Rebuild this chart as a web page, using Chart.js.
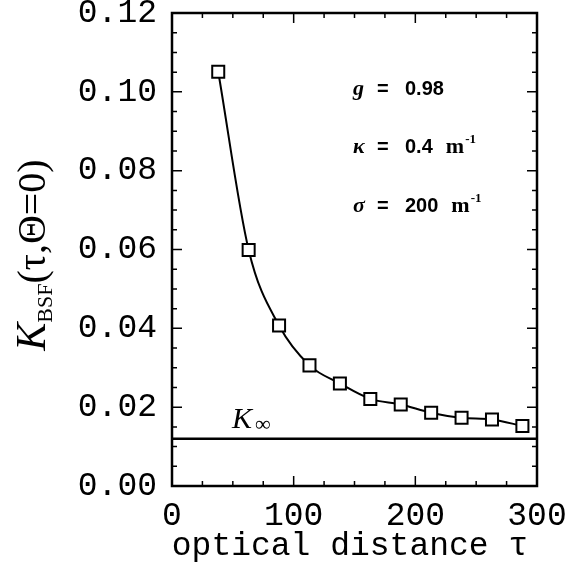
<!DOCTYPE html>
<html>
<head>
<meta charset="utf-8">
<script src="https://cdn.jsdelivr.net/npm/chart.js@4"></script>
<style>
  html, body { margin: 0; padding: 0; background: #fff; }
  #wrap { width: 571px; height: 571px; }
</style>
</head>
<body>
<div id="wrap"><canvas id="kChart" width="571" height="571"></canvas></div>
<script>
  // values
  const tau = [38, 63, 88, 113, 138, 163, 188, 213, 238, 263, 288];
  const kbsf = [0.1051, 0.0599, 0.0407, 0.0306, 0.0260, 0.0221, 0.0207, 0.0186, 0.0173, 0.0169, 0.0152];
  const kInfTau = [0, 300];
  const kInf = [0.012, 0.012];
  const xRange = [0, 300];
  const yRange = [0, 0.12];
  const xMajor = 100, xMinor = 25;
  const yMajor = 0.02, yMinor = 0.005;
  const params = [
    ['g', '0.98', ''],
    ['\u03ba', '0.4', 'm'],
    ['\u03c3', '200', 'm']
  ];

  const monoFont = "'Liberation Mono', 'DejaVu Sans Mono', monospace";
  const serifFont = "'Liberation Serif', 'DejaVu Serif', serif";

  // frame + inward ticks on all four sides, plus the text pieces
  const framePlugin = {
    id: 'frame',
    afterDraw(chart) {
      const c = chart.ctx, a = chart.chartArea;
      const xs = chart.scales.x, ys = chart.scales.y;
      c.save();
      c.strokeStyle = '#000';
      c.lineWidth = 2.5;
      c.strokeRect(a.left, a.top, a.right - a.left, a.bottom - a.top);

      c.lineWidth = 1.5;
      c.beginPath();
      for (let v = xRange[0]; v <= xRange[1] + 1e-9; v += xMinor) {
        const px = xs.getPixelForValue(v);
        const len = Math.abs(v % xMajor) < 1e-9 ? 10 : 5;
        c.moveTo(px, a.bottom); c.lineTo(px, a.bottom - len);
        c.moveTo(px, a.top); c.lineTo(px, a.top + len);
      }
      for (let i = 0; i <= Math.round((yRange[1] - yRange[0]) / yMinor); i++) {
        const v = yRange[0] + i * yMinor;
        const py = ys.getPixelForValue(v);
        const len = i % 4 === 0 ? 10 : 5;
        c.moveTo(a.left, py); c.lineTo(a.left + len, py);
        c.moveTo(a.right, py); c.lineTo(a.right - len, py);
      }
      c.stroke();

      c.fillStyle = '#000';
      // x axis title
      c.font = '33px ' + monoFont;
      c.textAlign = 'center';
      c.textBaseline = 'alphabetic';
      c.fillText('optical distance \u03c4', 350, 555);

      // y axis title, rotated
      c.save();
      c.translate(45, 255);
      c.rotate(-Math.PI / 2);
      c.textAlign = 'left';
      const pieces = [
        ['italic 42px ' + serifFont, 'K', 0],
        ['22px ' + serifFont, 'BSF', 7],
        ['40px ' + serifFont, '(\u03c4,\u0398=0)', 0]
      ];
      let total = 0;
      pieces.forEach(p => { c.font = p[0]; total += c.measureText(p[1]).width; });
      let u = -total / 2;
      pieces.forEach(p => {
        c.font = p[0];
        c.fillText(p[1], u, p[2]);
        u += c.measureText(p[1]).width;
      });
      c.restore();

      // K_inf label sits just above its line
      const kpy = ys.getPixelForValue(kInf[0]);
      c.textAlign = 'left';
      c.font = 'italic 30px ' + serifFont;
      c.fillText('K', 232, kpy - 11);
      c.font = '22px ' + serifFont;
      c.fillText('\u221e', 255, kpy - 8);

      // parameter block
      const rows = [95, 153, 212];
      params.forEach((p, i) => {
        const y = rows[i];
        c.font = 'italic bold 22px ' + serifFont;
        c.fillText(p[0], 353, y);
        c.font = 'bold 20px Arial, "Liberation Sans", sans-serif';
        c.fillText('=', 377, y);
        c.fillText(p[1], 405, y);
        if (p[2]) {
          const mx = 405 + c.measureText(p[1]).width + 13;
          c.font = 'bold 22px ' + serifFont;
          c.fillText(p[2], mx, y);
          const sx = mx + c.measureText(p[2]).width + 1;
          c.font = 'bold 13px ' + serifFont;
          c.fillText('-1', sx, y - 10);
        }
      });
      c.restore();
    }
  };

  const ctx = document.getElementById('kChart').getContext('2d');
  const kChart = new Chart(ctx, {
    type: 'line',
    data: {
      datasets: [{
        label: 'K_BSF',
        data: tau.map((t, i) => ({ x: t, y: kbsf[i] })),
        borderColor: '#000',
        borderWidth: 2,
        cubicInterpolationMode: 'monotone',
        pointStyle: 'rect',
        pointRadius: 8.5,
        pointBorderWidth: 2,
        pointBorderColor: '#000',
        pointBackgroundColor: '#fff',
        fill: false
      }, {
        label: 'K_inf',
        data: kInfTau.map((t, i) => ({ x: t, y: kInf[i] })),
        borderColor: '#000',
        borderWidth: 2.5,
        pointRadius: 0,
        fill: false
      }]
    },
    options: {
      responsive: false,
      animation: false,
      events: [],
      layout: { padding: { left: 0, top: 13, right: 34, bottom: 0 } },
      plugins: { legend: { display: false }, tooltip: { enabled: false } },
      scales: {
        x: {
          type: 'linear',
          min: xRange[0], max: xRange[1],
          afterFit: s => { s.height = 85; s.paddingLeft = 0; s.paddingRight = 0; },
          grid: { display: false, drawTicks: false },
          border: { display: false },
          ticks: {
            stepSize: xMajor,
            padding: 10,
            color: '#000',
            font: { family: monoFont, size: 33 },
            maxRotation: 0
          }
        },
        y: {
          type: 'linear',
          min: yRange[0], max: yRange[1],
          afterFit: s => { s.width = 172; s.paddingTop = 0; s.paddingBottom = 0; },
          grid: { display: false, drawTicks: false },
          border: { display: false },
          ticks: {
            stepSize: yMajor,
            padding: 15,
            color: '#000',
            font: { family: monoFont, size: 33 },
            callback: v => v.toFixed(2)
          }
        }
      }
    },
    plugins: [framePlugin]
  });
</script>
</body>
</html>
